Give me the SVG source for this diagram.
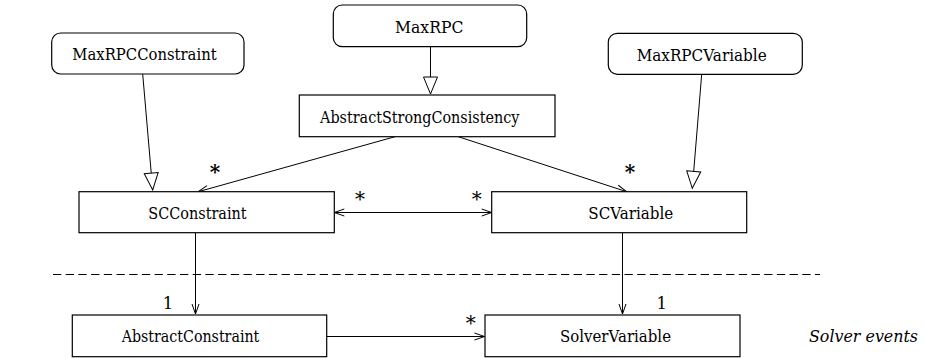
<svg xmlns="http://www.w3.org/2000/svg" width="925" height="358" viewBox="0 0 925 358">
<style>
.box{fill:#fff;stroke:#000;stroke-width:1.2}
.t{font-family:"DejaVu Serif",serif;font-size:16.3px;fill:#000;text-anchor:middle}
.lbl{font-family:"DejaVu Serif",serif;font-size:20px;fill:#000;text-anchor:middle}
.one{font-family:"DejaVu Serif",serif;font-size:16.5px;fill:#000;text-anchor:middle}
.ln{fill:none;stroke:#000;stroke-width:1}
.gen{marker-end:url(#tri)}
.asc{marker-end:url(#open)}
</style>
<defs>
<marker id="tri" markerUnits="userSpaceOnUse" markerWidth="20" markerHeight="16" refX="17" refY="7" orient="auto" overflow="visible">
<path d="M0,0 L17,7 L0,14 Z" fill="#fff" stroke="#000" stroke-width="1"/>
</marker>
<marker id="open" markerUnits="userSpaceOnUse" markerWidth="12" markerHeight="8" refX="10" refY="3.5" orient="auto-start-reverse" overflow="visible">
<path d="M0,0 L10,3.5 L0,7" fill="none" stroke="#000" stroke-width="1"/>
</marker>
</defs>
<g id="connectors">
<line class="ln gen" x1="142.7" y1="74" x2="152.7" y2="190"/>
<line class="ln gen" x1="430.5" y1="46.7" x2="430.5" y2="94"/>
<line class="ln gen" x1="701.7" y1="74.3" x2="692.3" y2="188.3"/>
<line class="ln asc" x1="395" y1="136.7" x2="198.3" y2="191.7"/>
<line class="ln asc" x1="458.3" y1="136.7" x2="626.7" y2="191.7"/>
<line class="ln" x1="334.3" y1="212.5" x2="491.7" y2="212.5" marker-start="url(#open)" marker-end="url(#open)"/>
<line class="ln asc" x1="195.5" y1="232.7" x2="195.5" y2="314"/>
<line class="ln asc" x1="622.5" y1="232.7" x2="622.5" y2="314"/>
<line class="ln asc" x1="326.7" y1="336.5" x2="484.5" y2="336.5"/>
<text class="lbl" x="215" y="179" font-weight="bold">*</text>
<text class="lbl" x="630" y="178.5" font-weight="bold">*</text>
<text class="lbl" x="360" y="205.8">*</text>
<text class="lbl" x="476.7" y="205.8">*</text>
<text class="lbl" x="470.7" y="330">*</text>
<text class="one" x="168" y="308.5">1</text>
<text class="one" x="661.7" y="309">1</text>
</g>
<line x1="53" y1="274.5" x2="820" y2="274.5" stroke="#000" stroke-width="1" stroke-dasharray="8.3,4.4"/>
<g id="MaxRPCConstraint">
<rect class="box" x="51.7" y="33" width="192.3" height="41" rx="9"/>
<text class="t" x="144.5" y="60" textLength="144.3" lengthAdjust="spacingAndGlyphs">MaxRPCConstraint</text>
</g>
<g id="MaxRPC">
<rect class="box" x="333.3" y="5" width="193.4" height="41.7" rx="9"/>
<text class="t" x="429.2" y="32.5" textLength="68.3" lengthAdjust="spacingAndGlyphs">MaxRPC</text>
</g>
<g id="MaxRPCVariable">
<rect class="box" x="608.3" y="33.3" width="194" height="41" rx="9"/>
<text class="t" x="701.7" y="60.5" textLength="130" lengthAdjust="spacingAndGlyphs">MaxRPCVariable</text>
</g>
<g id="AbstractStrongConsistency">
<rect class="box" x="299.3" y="95" width="255.7" height="41.7"/>
<text class="t" x="419.7" y="122.5" textLength="199.3" lengthAdjust="spacingAndGlyphs">AbstractStrongConsistency</text>
</g>
<g id="SCConstraint">
<rect class="box" x="79" y="191.7" width="255.3" height="41"/>
<text class="t" x="197.5" y="218.5" textLength="98.3" lengthAdjust="spacingAndGlyphs">SCConstraint</text>
</g>
<g id="SCVariable">
<rect class="box" x="491.7" y="191.7" width="255" height="41"/>
<text class="t" x="630.8" y="218.5" textLength="85" lengthAdjust="spacingAndGlyphs">SCVariable</text>
</g>
<g id="AbstractConstraint">
<rect class="box" x="72.3" y="315" width="254.4" height="41.7"/>
<text class="t" x="190.5" y="342" textLength="137.7" lengthAdjust="spacingAndGlyphs">AbstractConstraint</text>
</g>
<g id="SolverVariable">
<rect class="box" x="485" y="315" width="255" height="41.7"/>
<text class="t" x="615.5" y="342" textLength="111" lengthAdjust="spacingAndGlyphs">SolverVariable</text>
</g>
<text x="863.5" y="342" font-family="'DejaVu Serif',serif" font-size="17.5" font-style="italic" text-anchor="middle" textLength="109" lengthAdjust="spacingAndGlyphs">Solver events</text>
</svg>
